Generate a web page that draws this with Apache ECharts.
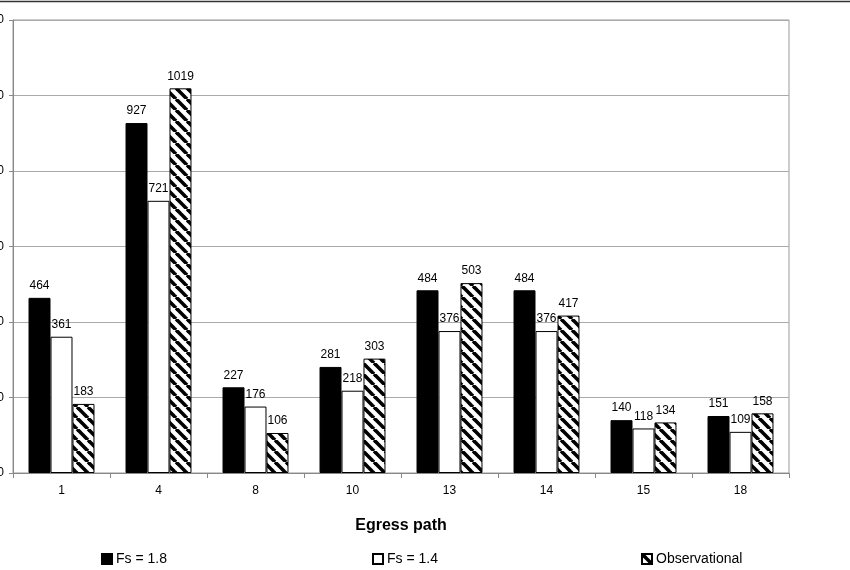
<!DOCTYPE html>
<html>
<head>
<meta charset="utf-8">
<script src="https://cdn.jsdelivr.net/npm/echarts@6/dist/echarts.min.js"></script>
<style>
  html, body { margin: 0; padding: 0; background: #fff; }
  #chart { width: 850px; height: 570px; }
</style>
</head>
<body>
<div id="chart"></div>
<script>
// 疏散路径对比数据
var paths = ['1', '4', '8', '10', '13', '14', '15', '18'];
var fs18 = [464, 927, 227, 281, 484, 484, 140, 151];
var fs14 = [361, 721, 176, 218, 376, 376, 118, 109];
var observed = [183, 1019, 106, 303, 503, 417, 134, 158];
var yTicks = [0, 200, 400, 600, 800, 1000, 1200];

// 斜线填充
var makeHatch = function () {
  var s = 11;
  var c = document.createElement('canvas');
  c.width = s; c.height = s;
  var ctx = c.getContext('2d');
  ctx.fillStyle = '#fff';
  ctx.fillRect(0, 0, s, s);
  ctx.strokeStyle = '#000';
  ctx.lineWidth = 3.6;
  for (var k = -1; k <= 1; k++) {
    ctx.beginPath();
    ctx.moveTo(k * s, 0);
    ctx.lineTo(k * s + s, s);
    ctx.stroke();
  }
  return c;
};

var font = 'Liberation Sans, Arial, sans-serif';
var labelStyle = { show: true, position: 'top', color: '#000', fontSize: 12, fontFamily: font, distance: 6 };
var legendBase = { top: 552, padding: 0, itemWidth: 10, itemHeight: 10, icon: 'rect', itemGap: 4,
  textStyle: { fontSize: 14, color: '#000', fontFamily: font, padding: [0, 0, 0, -1] } };

var chart = echarts.init(document.getElementById('chart'));
var option = {
  animation: false,
  textStyle: { fontFamily: font },
  grid: { left: 13, right: 61, top: 20, bottom: 97, outerBoundsMode: 'none', containLabel: false,
    show: true, borderColor: '#999', borderWidth: 1 },
  graphic: [
    { type: 'line', shape: { x1: 0, y1: 1.5, x2: 850, y2: 1.5 }, style: { stroke: '#333', lineWidth: 1.5 } }
  ],
  legend: [
    Object.assign({ left: 101, data: ['Fs = 1.8'] }, legendBase),
    Object.assign({ left: 372, data: ['Fs = 1.4'] }, legendBase),
    Object.assign({ left: 641, data: ['Observational'] }, legendBase)
  ],
  xAxis: {
    type: 'category',
    data: paths,
    name: 'Egress path',
    nameLocation: 'middle',
    nameGap: 45,
    nameTextStyle: { fontSize: 16, fontWeight: 'bold', color: '#000', fontFamily: font },
    axisLine: { lineStyle: { color: '#888' } },
    axisTick: { show: true, length: 5, lineStyle: { color: '#888' } },
    axisLabel: { color: '#000', fontSize: 12, margin: 12, fontFamily: font }
  },
  yAxis: {
    type: 'value',
    min: yTicks[0],
    max: yTicks[yTicks.length - 1],
    interval: 200,
    axisLine: { show: true, lineStyle: { color: '#888' } },
    axisTick: { show: true, length: 4, lineStyle: { color: '#888' } },
    axisLabel: { color: '#000', fontSize: 12, margin: 9, fontFamily: font,
      formatter: function (v) { return String(v); } },
    splitLine: { lineStyle: { color: '#aaa' } }
  },
  series: [
    { name: 'Fs = 1.8', type: 'bar', data: fs18, barGap: '0%', barCategoryGap: '32%',
      itemStyle: { color: '#000', borderColor: '#000', borderWidth: 1 },
      label: labelStyle },
    { name: 'Fs = 1.4', type: 'bar', data: fs14,
      itemStyle: { color: '#fff', borderColor: '#000', borderWidth: 1 },
      label: labelStyle },
    { name: 'Observational', type: 'bar', data: observed,
      itemStyle: { color: { image: makeHatch(), repeat: 'repeat' }, borderColor: '#000', borderWidth: 1 },
      label: labelStyle }
  ]
};
chart.setOption(option);
</script>
</body>
</html>
